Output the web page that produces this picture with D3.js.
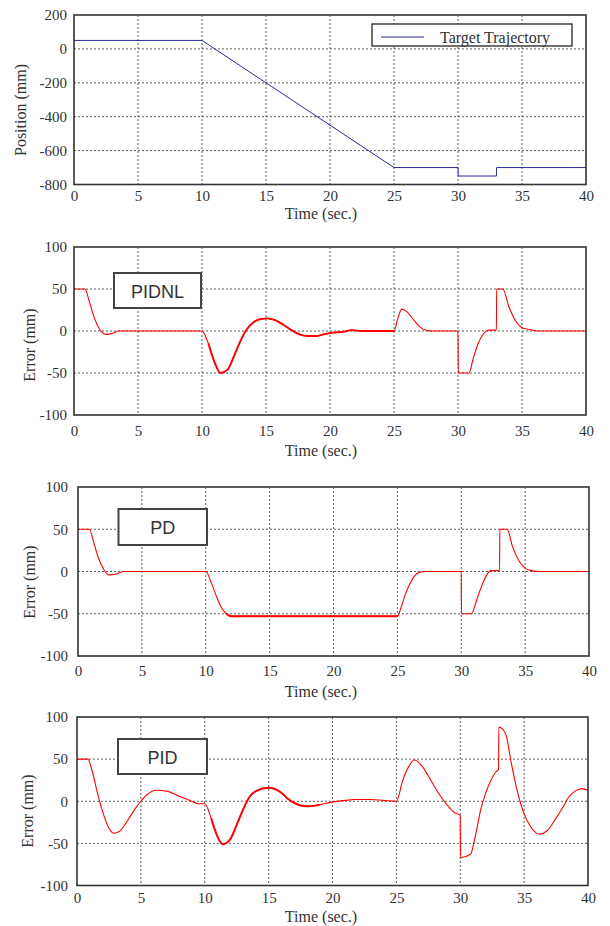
<!DOCTYPE html>
<html>
<head>
<meta charset="utf-8">
<script src="https://cdn.jsdelivr.net/npm/d3@7"></script>
<style>
  body { margin: 0; background: #fff; }
  svg text { font-family: "Liberation Serif", "Times New Roman", serif; fill: #333; }
</style>
</head>
<body>
<div id="chart"></div>
<script>
// tick values shared by all panels
const timeTicks = [0, 5, 10, 15, 20, 25, 30, 35, 40];
const posTicks = [-800, -600, -400, -200, 0, 200];
const errTicks = [-100, -50, 0, 50, 100];

// target trajectory (top panel)
const targetTime = [0, 10, 25, 30, 30.02, 33, 33.02, 40];
const targetPos = [50, 50, -700, -700, -750, -750, -700, -700];
const legendLabels = ['Target Trajectory'];

// tracking error, PIDNL controller
const pidnlTime = [0, 0.85, 1.2, 1.6, 2.0, 2.5, 3.0, 3.5, 10, 10.5, 11, 11.45, 12, 12.5, 13, 13.5, 14, 14.5, 15.1, 15.7,
  16.3, 17, 17.6, 18.3, 18.9, 19.5, 20.2, 21, 21.7, 22.5, 23.3, 24.2, 25, 25.3, 25.6, 26, 26.5, 27, 27.5, 28,
  30, 30.02, 30.85, 31.2, 31.6, 32, 32.4, 33, 33.02, 33.5, 34, 34.5, 35, 35.5, 36.2, 40];
const pidnlErr = [50, 50, 35, 15, 2, -4, -3, 0, 0, -15, -38, -50, -46, -30, -12, 2, 10, 14, 15, 13,
  8, 1, -4, -6, -6, -4, -2, -1, 1, 0, 0, 0, 0, 15, 26, 23, 14, 5, 1, 0,
  0, -50, -50, -32, -14, -3, 1, 1, 50, 50, 28, 12, 4, 2, 0, 0];

// tracking error, PD controller
const pdTime = [0, 0.9, 1.2, 1.6, 2.0, 2.4, 3.0, 3.6, 10, 10.4, 10.8, 11.2, 11.6, 12, 12.5, 25, 25.3, 25.6, 26,
  26.3, 26.7, 27.2, 30, 30.02, 30.8, 31.2, 31.6, 32, 32.3, 33, 33.02, 33.6, 34, 34.5, 35, 35.5, 36, 40];
const pdErr = [50, 50, 36, 16, 3, -4, -3, 0, 0, -12, -28, -42, -50, -53, -53, -53, -42, -28, -14,
  -6, -1, 0, 0, -50, -50, -34, -17, -4, 1, 1, 50, 50, 30, 13, 4, 1, 0, 0];

// tracking error, PID controller
const pidTime = [0, 0.85, 1.2, 1.6, 2.0, 2.5, 2.9, 3.3, 4.0, 4.5, 5.0, 5.5, 6.2, 7.0, 8.0, 9.0, 9.5, 10, 10.5, 11,
  11.4, 12, 12.5, 13, 13.5, 14, 15, 16, 16.5, 17, 17.5, 18.2, 19, 20, 21, 21.7, 23, 24, 25, 25.5,
  26, 26.4, 27, 27.5, 28, 28.5, 29, 29.5, 30, 30.02, 30.8, 31.2, 31.6, 32, 32.4, 32.8, 33, 33.02, 33.3, 33.6,
  34, 34.5, 35, 35.5, 36.2, 36.8, 37.5, 38, 38.5, 39, 39.5, 40];
const pidErr = [50, 50, 35, 10, -12, -32, -38, -36, -22, -10, 0, 8, 13, 12, 6, 0, -3, -3, -20, -42,
  -51, -45, -28, -10, 5, 12, 16, 10, 3, -2, -5, -6, -4, -1, 1, 2, 2, 1, 0, 25,
  42, 49, 42, 30, 17, 5, -5, -13, -17, -67, -63, -40, -10, 10, 25, 35, 38, 88, 86, 78,
  45, 10, -15, -30, -39, -35, -20, -8, 5, 12, 15, 13];

// time spans where the measured error is noisy (drawn heavier)
const pidnlNoisy = [10.5, 25];
const pdNoisy = [11.6, 25];
const pidNoisy = [10.5, 19];

const zip = (xs, ys) => xs.map((t, i) => ({ t: t, v: ys[i] }));

// panel layout (pixels)
const panels = [
  { left: 74, right: 586, top: 15, bottom: 184.5, yTicks: posTicks, yDomain: [-800, 200],
    ylabel: 'Position (mm)', ylabX: 20, ylabY: 110, tickPad: 7, xPad: 6, xTitleY: 213,
    data: zip(targetTime, targetPos), color: '#2a2a9c', width: 1, curve: d3.curveLinear,
    legend: { x: 372, y: 24, w: 200, h: 22 } },
  { left: 74, right: 586, top: 247, bottom: 415, yTicks: errTicks, yDomain: [-100, 100],
    ylabel: 'Error (mm)', ylabX: 29, ylabY: 345, tickPad: 7, xPad: 10.5, xTitleY: 450,
    data: zip(pidnlTime, pidnlErr), noisy: pidnlNoisy, color: '#ff0000', width: 1.1, curve: d3.curveMonotoneX,
    box: { label: 'PIDNL', x: 114, y: 273, w: 87, h: 35 } },
  { left: 78, right: 589, top: 487, bottom: 656, yTicks: errTicks, yDomain: [-100, 100],
    ylabel: 'Error (mm)', ylabX: 29, ylabY: 582, tickPad: 10, xPad: 9.5, xTitleY: 691,
    data: zip(pdTime, pdErr), noisy: pdNoisy, color: '#ff0000', width: 1.1, curve: d3.curveMonotoneX,
    box: { label: 'PD', x: 118.5, y: 509, w: 88.5, h: 36 } },
  { left: 77, right: 588, top: 717, bottom: 885.5, yTicks: errTicks, yDomain: [-100, 100],
    ylabel: 'Error (mm)', ylabX: 27, ylabY: 811, tickPad: 9, xPad: 7, xTitleY: 916.5,
    data: zip(pidTime, pidErr), noisy: pidNoisy, color: '#ff0000', width: 1.1, curve: d3.curveMonotoneX,
    box: { label: 'PID', x: 118, y: 739, w: 89, h: 35 } }
];

const serif = '"Liberation Serif", "Times New Roman", Times, serif';

const svg = d3.select('#chart').append('svg')
  .attr('width', 610)
  .attr('height', 926)
  .style('background', '#fff');

panels.forEach(p => {
  const x = d3.scaleLinear().domain([0, 40]).range([p.left, p.right]);
  const y = d3.scaleLinear().domain(p.yDomain).range([p.bottom, p.top]);
  const g = svg.append('g');

  // dashed grid
  g.selectAll('.vgrid')
    .data(timeTicks.slice(1, -1))
    .enter().append('line')
    .attr('x1', d => x(d)).attr('x2', d => x(d))
    .attr('y1', p.top).attr('y2', p.bottom)
    .attr('stroke', '#333').attr('stroke-width', 0.8).attr('stroke-dasharray', '2,2');
  g.selectAll('.hgrid')
    .data(p.yTicks.slice(1, -1))
    .enter().append('line')
    .attr('x1', p.left).attr('x2', p.right)
    .attr('y1', d => y(d)).attr('y2', d => y(d))
    .attr('stroke', '#333').attr('stroke-width', 0.8).attr('stroke-dasharray', '2,2');

  // axes (labels only, frame drawn separately); plain hyphen for negatives
  const xAxis = g.append('g')
    .attr('transform', `translate(0,${p.bottom})`)
    .call(d3.axisBottom(x).tickValues(timeTicks).tickSize(0).tickPadding(p.xPad).tickFormat(d => String(d)));
  const yAxis = g.append('g')
    .attr('transform', `translate(${p.left},0)`)
    .call(d3.axisLeft(y).tickValues(p.yTicks).tickSize(0).tickPadding(p.tickPad).tickFormat(d => String(d)));
  [xAxis, yAxis].forEach(a => {
    a.attr('font-family', serif).attr('font-size', 15);
    a.select('.domain').remove();
    a.selectAll('text').style('font-family', serif).style('font-size', '15px').attr('fill', '#333');
  });

  // the curve
  const line = d3.line().x(d => x(d.t)).y(d => y(d.v)).curve(p.curve);
  g.append('path')
    .datum(p.data)
    .attr('d', line)
    .attr('fill', 'none')
    .attr('stroke', p.color)
    .attr('stroke-width', p.width)
    .attr('stroke-linejoin', 'round');

  // heavier stroke over the noisy stretch
  if (p.noisy) {
    g.append('path')
      .datum(p.data.filter(d => d.t >= p.noisy[0] && d.t <= p.noisy[1]))
      .attr('d', line)
      .attr('fill', 'none')
      .attr('stroke', p.color)
      .attr('stroke-width', 1.9)
      .attr('stroke-linejoin', 'round');
  }

  // frame
  g.append('rect')
    .attr('x', p.left).attr('y', p.top)
    .attr('width', p.right - p.left).attr('height', p.bottom - p.top)
    .attr('fill', 'none').attr('stroke', '#333').attr('stroke-width', 1.6);

  // axis titles
  g.append('text')
    .attr('x', 321).attr('y', p.xTitleY)
    .attr('text-anchor', 'middle').attr('dominant-baseline', 'central')
    .style('font-family', serif).style('font-size', '16px')
    .text('Time (sec.)');
  g.append('text')
    .attr('transform', `translate(${p.ylabX},${p.ylabY}) rotate(-90)`)
    .attr('text-anchor', 'middle').attr('dominant-baseline', 'central')
    .style('font-family', serif).style('font-size', '16px')
    .text(p.ylabel);

  // legend for the trajectory panel
  if (p.legend) {
    const lg = g.append('g').attr('transform', `translate(${p.legend.x},${p.legend.y})`);
    lg.append('rect')
      .attr('width', p.legend.w).attr('height', p.legend.h)
      .attr('fill', '#fff').attr('stroke', '#333').attr('stroke-width', 1.4);
    lg.selectAll('.lgitem')
      .data(legendLabels)
      .enter().append('g')
      .each(function (d) {
        const it = d3.select(this);
        it.append('line')
          .attr('x1', 9).attr('x2', 52).attr('y1', 13).attr('y2', 13)
          .attr('stroke', p.color).attr('stroke-width', 1);
        it.append('text')
          .attr('x', 68).attr('y', 13)
          .attr('dominant-baseline', 'central')
          .style('font-family', serif).style('font-size', '16px')
          .text(d);
      });
  }

  // controller name box
  if (p.box) {
    g.append('rect')
      .attr('x', p.box.x).attr('y', p.box.y)
      .attr('width', p.box.w).attr('height', p.box.h)
      .attr('fill', '#fff').attr('stroke', '#444').attr('stroke-width', 2);
    g.append('text')
      .attr('x', p.box.x + p.box.w / 2).attr('y', p.box.y + p.box.h / 2 + 1)
      .attr('text-anchor', 'middle').attr('dominant-baseline', 'central')
      .style('font-size', '18px')
      .style('font-family', '"Liberation Sans", Arial, sans-serif')
      .text(p.box.label);
  }
});
</script>
</body>
</html>
